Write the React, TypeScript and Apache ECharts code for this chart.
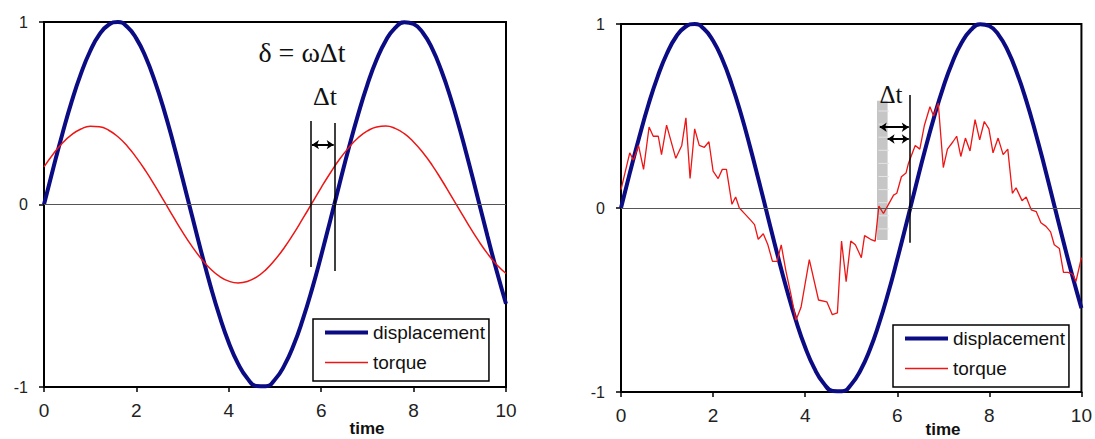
import React, { useEffect, useRef } from "react";
import * as echarts from "echarts";

// smooth curves sampled every 0.2 s
const timeSmooth = [
  0, 0.2, 0.4, 0.6, 0.8, 1.0, 1.2, 1.4, 1.6, 1.8, 2.0, 2.2, 2.4, 2.6, 2.8, 3.0, 3.2, 3.4, 3.6, 3.8,
  4.0, 4.2, 4.4, 4.6, 4.8, 5.0, 5.2, 5.4, 5.6, 5.8, 6.0, 6.2, 6.4, 6.6, 6.8, 7.0, 7.2, 7.4, 7.6, 7.8,
  8.0, 8.2, 8.4, 8.6, 8.8, 9.0, 9.2, 9.4, 9.6, 9.8, 10.0,
];
const displacement = [
  0, 0.199, 0.389, 0.565, 0.717, 0.841, 0.932, 0.985, 1.0, 0.974, 0.909, 0.808, 0.675, 0.516, 0.335,
  0.141, -0.058, -0.256, -0.443, -0.612, -0.757, -0.872, -0.952, -0.994, -0.996, -0.959, -0.883,
  -0.773, -0.631, -0.465, -0.279, -0.083, 0.117, 0.312, 0.494, 0.657, 0.794, 0.899, 0.968, 0.999,
  0.989, 0.941, 0.855, 0.734, 0.585, 0.412, 0.223, 0.025, -0.174, -0.366, -0.544,
];
const torqueSmooth = [
  0.206, 0.277, 0.337, 0.383, 0.414, 0.429, 0.426, 0.407, 0.371, 0.321, 0.257, 0.184, 0.103, 0.018,
  -0.068, -0.151, -0.228, -0.296, -0.352, -0.394, -0.42, -0.43, -0.422, -0.398, -0.358, -0.303,
  -0.237, -0.161, -0.078, 0.007, 0.093, 0.174, 0.249, 0.313, 0.366, 0.403, 0.425, 0.43, 0.417,
  0.388, 0.343, 0.285, 0.216, 0.137, 0.053, -0.032, -0.117, -0.197, -0.269, -0.33, -0.378,
];

// noisy torque (right panel)
const torqueNoisyTime = [
  0.0, 0.19, 0.27, 0.38, 0.49, 0.61, 0.7, 0.81, 0.88, 0.99, 1.19, 1.32, 1.41, 1.5, 1.6, 1.7, 1.81,
  1.91, 2.0, 2.11, 2.2, 2.29, 2.41, 2.49, 2.57, 2.72, 2.83, 2.9, 2.98, 3.09, 3.19, 3.29, 3.39, 3.48,
  3.58, 3.69, 3.8, 3.91, 4.09, 4.29, 4.47, 4.59, 4.7, 4.79, 4.89, 4.99, 5.09, 5.22, 5.29, 5.42,
  5.52, 5.6, 5.7, 5.81, 5.92, 5.99, 6.09, 6.19, 6.24, 6.39, 6.49, 6.59, 6.71, 6.79, 6.89, 7.0,
  7.09, 7.21, 7.29, 7.38, 7.48, 7.58, 7.69, 7.79, 7.89, 7.99, 8.08, 8.19, 8.3, 8.4, 8.5, 8.58,
  8.71, 8.8, 8.91, 9.02, 9.12, 9.23, 9.33, 9.41, 9.52, 9.61, 9.71, 9.81, 9.88, 10.0,
];
const torqueNoisy = [
  0.1, 0.3, 0.26, 0.34, 0.21, 0.44, 0.39, 0.39, 0.29, 0.45, 0.27, 0.34, 0.49, 0.16, 0.43, 0.34, 0.33,
  0.36, 0.2, 0.16, 0.21, 0.21, 0.02, 0.06, 0.0, -0.04, -0.07, -0.09, -0.17, -0.14, -0.2, -0.29,
  -0.29, -0.2, -0.34, -0.47, -0.61, -0.54, -0.28, -0.5, -0.51, -0.58, -0.57, -0.18, -0.4, -0.18,
  -0.2, -0.27, -0.15, -0.17, -0.18, 0.01, -0.03, 0.02, 0.07, 0.08, 0.17, 0.19, 0.24, 0.34, 0.32,
  0.45, 0.55, 0.5, 0.57, 0.22, 0.32, 0.36, 0.39, 0.28, 0.38, 0.31, 0.48, 0.37, 0.47, 0.43, 0.3,
  0.38, 0.29, 0.32, 0.08, 0.11, 0.04, 0.06, -0.01, -0.02, -0.08, -0.1, -0.13, -0.2, -0.22, -0.35,
  -0.35, -0.36, -0.4, -0.27,
];

const NAVY = "#0b0b84";
const RED = "#ee1515";
const SANS = "Liberation Sans, Arial, Helvetica, sans-serif";
const SERIF = "Liberation Serif, Times New Roman, serif";

function pairs(xs: number[], ys: number[]) {
  return xs.map((x, i) => [x, ys[i]]);
}

function plainSeg(a: number[], b: number[], color: string, width: number) {
  return [
    { coord: a, symbol: "none", lineStyle: { color, width, type: "solid" } },
    { coord: b, symbol: "none" },
  ];
}
function arrowSeg(a: number[], b: number[]) {
  return [
    { coord: a, symbol: "arrow", lineStyle: { color: "#000", width: 2, type: "solid" } },
    { coord: b, symbol: "arrow" },
  ];
}

export default function App() {
  const ref = useRef<HTMLDivElement>(null);
  useEffect(() => {
    document.body.style.margin = "0";
    const chart = echarts.init(ref.current!, undefined, { renderer: "svg" });

    const xAxisBase = (gridIndex: number) => ({
      type: "value",
      gridIndex,
      min: 0,
      max: 10,
      interval: 2,
      axisLine: { show: true, onZero: false, lineStyle: { color: "#000", width: 2 } },
      axisTick: { show: true, length: 5, lineStyle: { color: "#000", width: 1.5 } },
      axisLabel: { fontSize: 19, color: "#222", fontFamily: SANS, margin: 14 },
      splitLine: { show: false },
    });
    const yAxisBase = (gridIndex: number) => ({
      type: "value",
      gridIndex,
      min: -1,
      max: 1,
      interval: 1,
      axisLine: { show: true, lineStyle: { color: "#000", width: 2 } },
      axisTick: { show: true, length: 5, lineStyle: { color: "#000", width: 1.5 } },
      axisLabel: { fontSize: 16, color: "#222", fontFamily: SANS, margin: 16 },
      splitLine: { show: false },
    });

    const legendBase = (left: number, top: number) => ({
      left,
      top,
      orient: "vertical",
      padding: [4, 4, 9, 10],
      itemWidth: 43,
      itemHeight: 14,
      itemGap: 11,
      borderColor: "#000",
      borderWidth: 1.5,
      backgroundColor: "#fff",
      selectedMode: false,
      textStyle: { fontSize: 19, color: "#111", fontFamily: SANS, lineHeight: 19 },
      data: [
        { name: "displacement", lineStyle: { width: 4, color: NAVY }, itemStyle: { opacity: 0 } },
        { name: "torque", lineStyle: { width: 1.5, color: RED }, itemStyle: { opacity: 0 } },
      ],
    });

    const rectLines = [];
    for (let i = 0; i < 10; i++) {
      const y = 111 + i * 13.1;
      rectLines.push({
        type: "line",
        shape: { x1: 878.5, y1: y, x2: 889, y2: y },
        style: { stroke: "#e4e4e4", lineWidth: 1 },
        z: 3,
      });
    }

    chart.setOption({
      animation: false,
      backgroundColor: "#fff",
      grid: [
        { left: 44, top: 22, right: 589, bottom: 52, show: true, borderColor: "#000", borderWidth: 2 },
        { left: 621, top: 24, right: 11, bottom: 47, show: true, borderColor: "#000", borderWidth: 2 },
      ],
      xAxis: [xAxisBase(0), xAxisBase(1)],
      yAxis: [yAxisBase(0), yAxisBase(1)],
      legend: [legendBase(313, 319), legendBase(893, 325)],
      series: [
        {
          name: "displacement",
          type: "line",
          xAxisIndex: 0,
          yAxisIndex: 0,
          data: pairs(timeSmooth, displacement),
          smooth: true,
          symbol: "none",
          lineStyle: { color: NAVY, width: 4 },
          itemStyle: { color: NAVY },
          markLine: {
            silent: true,
            animation: false,
            label: { show: false },
            data: [
              plainSeg([0, 0], [10, 0], "#555", 1),
              plainSeg([5.78, 0.457], [5.78, -0.342], "#000", 1.5),
              plainSeg([6.29, 0.447], [6.29, -0.364], "#000", 1.5),
            ],
          },
        },
        {
          name: "torque",
          type: "line",
          xAxisIndex: 0,
          yAxisIndex: 0,
          data: pairs(timeSmooth, torqueSmooth),
          smooth: true,
          symbol: "none",
          lineStyle: { color: RED, width: 1.5 },
          itemStyle: { color: RED },
          markLine: {
            silent: true,
            animation: false,
            symbolSize: 7,
            label: { show: false },
            data: [arrowSeg([5.8, 0.328], [6.27, 0.328])],
          },
        },
        {
          name: "displacement",
          type: "line",
          xAxisIndex: 1,
          yAxisIndex: 1,
          data: pairs(timeSmooth, displacement),
          smooth: true,
          symbol: "none",
          lineStyle: { color: NAVY, width: 4 },
          itemStyle: { color: NAVY },
          markArea: {
            silent: true,
            itemStyle: { color: "#c6c6c6" },
            data: [[{ coord: [5.56, 0.583] }, { coord: [5.79, -0.174] }]],
          },
          markLine: {
            silent: true,
            animation: false,
            label: { show: false },
            data: [
              plainSeg([0, 0], [10, 0], "#555", 1),
              plainSeg([6.27, 0.614], [6.27, -0.189], "#000", 1.5),
            ],
          },
        },
        {
          name: "torque",
          type: "line",
          xAxisIndex: 1,
          yAxisIndex: 1,
          data: pairs(torqueNoisyTime, torqueNoisy),
          symbol: "none",
          lineStyle: { color: RED, width: 1.3 },
          itemStyle: { color: RED },
          z: 4,
          markLine: {
            silent: true,
            animation: false,
            symbolSize: 7,
            label: { show: false },
            data: [
              arrowSeg([5.62, 0.439], [6.25, 0.439]),
              arrowSeg([5.79, 0.375], [6.25, 0.375]),
            ],
          },
        },
      ],
      graphic: [
        ...rectLines,
        {
          type: "text",
          x: 302,
          y: 52,
          style: {
            text: "δ = ωΔt",
            font: `28px ${SERIF}`,
            fill: "#111",
            textAlign: "center",
            textVerticalAlign: "middle",
          },
        },
        {
          type: "text",
          x: 325,
          y: 96,
          style: {
            text: "Δt",
            font: `26px ${SERIF}`,
            fill: "#111",
            textAlign: "center",
            textVerticalAlign: "middle",
          },
        },
        {
          type: "text",
          x: 891,
          y: 94,
          z: 5,
          style: {
            text: "Δt",
            font: `25px ${SERIF}`,
            fill: "#111",
            textAlign: "center",
            textVerticalAlign: "middle",
          },
        },
        {
          type: "text",
          x: 367,
          y: 428,
          style: {
            text: "time",
            font: `bold 17px ${SANS}`,
            fill: "#111",
            textAlign: "center",
            textVerticalAlign: "middle",
          },
        },
        {
          type: "text",
          x: 943,
          y: 429,
          style: {
            text: "time",
            font: `bold 17px ${SANS}`,
            fill: "#111",
            textAlign: "center",
            textVerticalAlign: "middle",
          },
        },
      ],
    });
    return () => chart.dispose();
  }, []);
  return <div ref={ref} style={{ width: 1095, height: 439 }} />;
}
